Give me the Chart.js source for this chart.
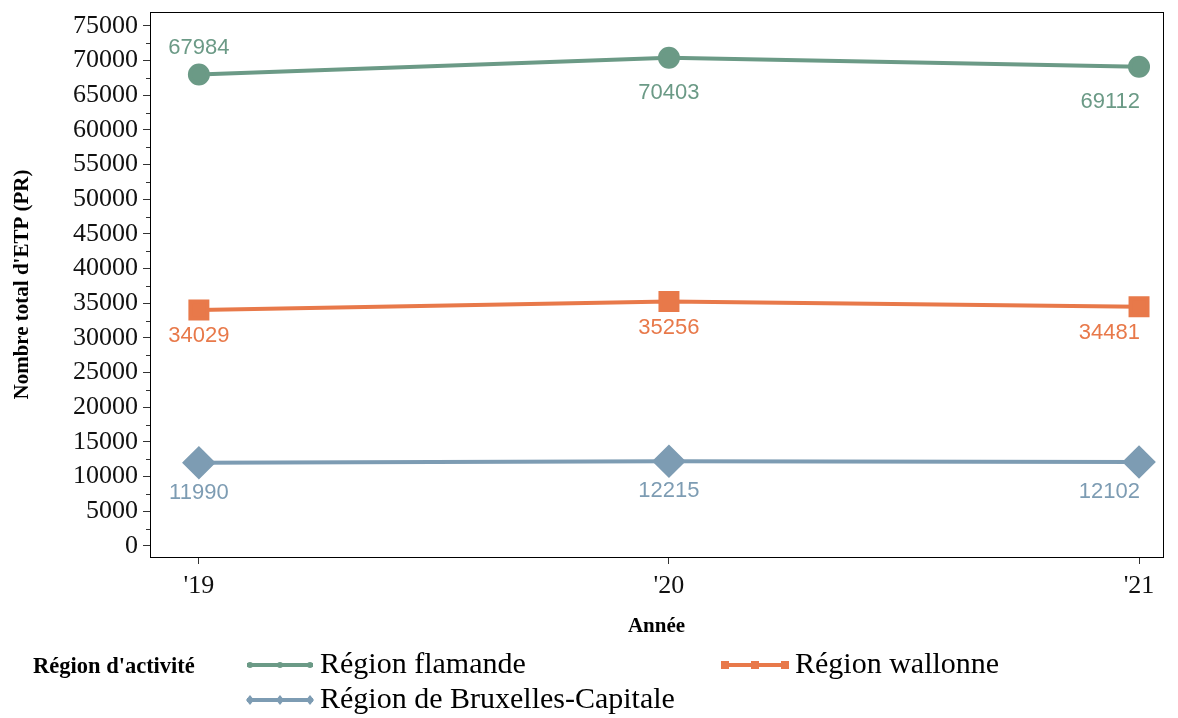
<!DOCTYPE html>
<html>
<head>
<meta charset="utf-8">
<script src="https://cdn.jsdelivr.net/npm/chart.js@4/dist/chart.umd.min.js"></script>
<style>
  html, body { margin: 0; padding: 0; background: #fff; }
  #wrap { width: 1178px; height: 718px; position: relative; }
</style>
</head>
<body>
<div id="wrap"><canvas id="grafico"></canvas></div>
<script>
// donnees
const annees = ["'19", "'20", "'21"];
const flamande = [67984, 70403, 69112];
const wallonne = [34029, 35256, 34481];
const bruxelles = [11990, 12215, 12102];
const nomsSeries = ["Région flamande", "Région wallonne", "Région de Bruxelles-Capitale"];
const couleurs = ["#6b9a86", "#e8794a", "#7d9cb3"];

const serif = "'Liberation Serif', 'Times New Roman', serif";
const sans = "'Liberation Sans', Arial, sans-serif";

function points(vals) {
    return vals.map((v, i) => ({ x: i, y: v }));
}

// etiquettes des valeurs
const etiquettes = {
    id: "etiquettes",
    afterDatasetsDraw(chart) {
        const ctx = chart.ctx;
        ctx.save();
        ctx.font = "22px " + sans;
        ctx.textBaseline = "middle";
        chart.data.datasets.forEach((ds, di) => {
            const meta = chart.getDatasetMeta(di);
            meta.data.forEach((pt, i) => {
                const dy = ds.decalages[i];
                const align = i === 2 ? "right" : "center";
                ctx.textAlign = align;
                ctx.fillStyle = ds.borderColor;
                ctx.fillText(String(ds.data[i].y), pt.x + (align === "right" ? 1 : 0), pt.y + dy);
            });
        });
        ctx.restore();
    }
};

// cadre autour de la zone + petites graduations
const cadre = {
    id: "cadre",
    beforeDatasetsDraw(chart) {
        const a = chart.chartArea;
        const ctx = chart.ctx;
        ctx.save();
        ctx.strokeStyle = "#000";
        ctx.lineWidth = 1;
        ctx.strokeRect(a.left + 0.5, a.top + 0.5, a.right - a.left, a.bottom - a.top);
        const y = chart.scales.y;
        ctx.strokeStyle = "#333";
        y.ticks.forEach(t => {
            if (t.value % 5000 !== 0) {
                const py = Math.round(y.getPixelForValue(t.value)) + 0.5;
                ctx.beginPath();
                ctx.moveTo(a.left - 4, py);
                ctx.lineTo(a.left, py);
                ctx.stroke();
            }
        });
        ctx.restore();
    }
};

function marqueur(ctx, style, x, y, r) {
    ctx.beginPath();
    if (style === "circle") {
        ctx.arc(x, y, r, 0, Math.PI * 2);
    } else if (style === "rect") {
        ctx.rect(x - r, y - r, 2 * r, 2 * r);
    } else {
        ctx.moveTo(x, y - r - 1);
        ctx.lineTo(x + r, y);
        ctx.lineTo(x, y + r + 1);
        ctx.lineTo(x - r, y);
        ctx.closePath();
    }
    ctx.fill();
}

// legende dessinee sous le graphique
const legende = {
    id: "legende",
    afterDraw(chart) {
        const ctx = chart.ctx;
        ctx.save();
        ctx.fillStyle = "#000";
        ctx.textBaseline = "middle";
        ctx.textAlign = "left";
        ctx.font = "bold 22.5px " + serif;
        ctx.fillText("Région d'activité", 33, 667);
        const places = [[247, 665], [722, 665], [247, 700]];
        chart.data.datasets.forEach((ds, di) => {
            const [x, y] = places[di];
            ctx.strokeStyle = ds.borderColor;
            ctx.fillStyle = ds.borderColor;
            ctx.lineWidth = 4;
            ctx.beginPath();
            ctx.moveTo(x, y);
            ctx.lineTo(x + 66, y);
            ctx.stroke();
            [x + 3, x + 33, x + 63].forEach(mx => marqueur(ctx, ds.pointStyle, mx, y, ds.pointStyle === "circle" ? 3 : 4));
            ctx.fillStyle = "#000";
            ctx.font = "30px " + serif;
            ctx.fillText(ds.label, x + 73, y);
        });
        ctx.restore();
    }
};

const ctx = document.getElementById("grafico").getContext("2d");
document.getElementById("grafico").width = 1178;
document.getElementById("grafico").height = 718;

new Chart(ctx, {
    type: "line",
    data: {
        datasets: [
            {
                label: nomsSeries[0],
                data: points(flamande),
                borderColor: couleurs[0],
                backgroundColor: couleurs[0],
                borderWidth: 4,
                pointStyle: "circle",
                pointRadius: 9,
                decalages: [-27, 35, 35]
            },
            {
                label: nomsSeries[1],
                data: points(wallonne),
                borderColor: couleurs[1],
                backgroundColor: couleurs[1],
                borderWidth: 4,
                pointStyle: "rect",
                pointRadius: 12,
                decalages: [26, 26, 26]
            },
            {
                label: nomsSeries[2],
                data: points(bruxelles),
                borderColor: couleurs[2],
                backgroundColor: couleurs[2],
                borderWidth: 4,
                pointStyle: "rectRot",
                pointRadius: 14,
                decalages: [30, 30, 30]
            }
        ]
    },
    options: {
        responsive: false,
        animation: false,
        layout: { autoPadding: false, padding: { top: 12, right: 15, left: 0, bottom: 78 } },
        plugins: {
            legend: { display: false },
            tooltip: { enabled: false }
        },
        scales: {
            x: {
                type: "linear",
                min: -0.104,
                max: 2.051,
                afterBuildTicks: s => { s.ticks = annees.map((a, i) => ({ value: i })); },
                afterFit: s => {
                    s.height = 83;
                    s.paddingLeft = 0;
                    s.paddingRight = 0;
                },
                grid: { drawOnChartArea: false, tickLength: 7, color: "#333" },
                border: { color: "#000", width: 1 },
                ticks: {
                    padding: 7,
                    color: "#111",
                    font: { family: serif, size: 26 },
                    callback: v => annees[v]
                },
                title: {
                    display: true,
                    text: "Année",
                    color: "#000",
                    font: { family: serif, size: 21, weight: "bold" },
                    padding: { top: 0, bottom: 1 }
                }
            },
            y: {
                min: -1600,
                max: 77000,
                afterBuildTicks: s => {
                    const t = [];
                    for (let v = 0; v <= 75000; v += 2500) t.push({ value: v });
                    s.ticks = t;
                },
                afterFit: s => {
                    s.width = 150;
                    s.paddingTop = 0;
                    s.paddingBottom = 0;
                },
                grid: {
                    drawOnChartArea: false,
                    tickLength: 7,
                    color: c => (c.tick && c.tick.value % 5000 === 0 ? "#333" : "rgba(0,0,0,0)")
                },
                border: { color: "#000", width: 1 },
                ticks: {
                    padding: 5,
                    autoSkip: false,
                    color: "#111",
                    font: { family: serif, size: 26, lineHeight: 1 },
                    callback: v => (v % 5000 === 0 ? String(v) : "")
                },
                title: {
                    display: true,
                    text: "Nombre total d'ETP (PR)",
                    color: "#000",
                    font: { family: serif, size: 21, weight: "bold" },
                    padding: { top: 10, bottom: 0 }
                }
            }
        }
    },
    plugins: [cadre, etiquettes, legende]
});
</script>
</body>
</html>
